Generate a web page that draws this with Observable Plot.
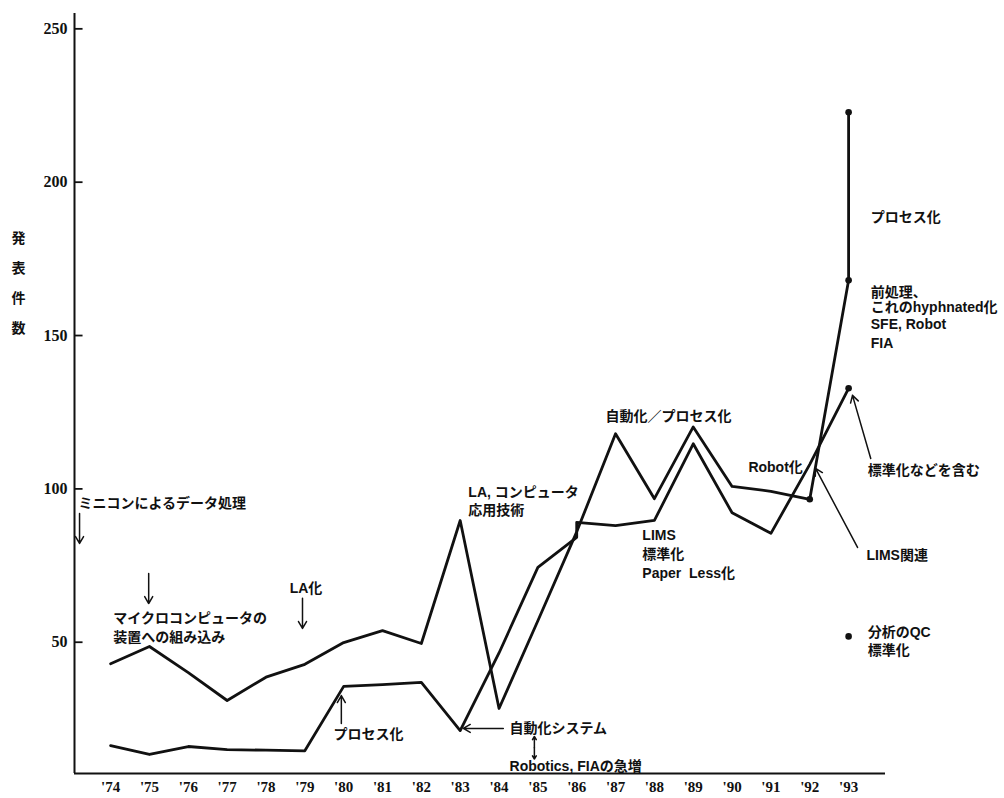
<!DOCTYPE html>
<html>
<head>
<meta charset="utf-8">
<script src="https://cdn.jsdelivr.net/npm/d3@7"></script>
<script src="https://cdn.jsdelivr.net/npm/@observablehq/plot@0.6"></script>
<style>
  body { margin: 0; background: #fff; }
  #chart { width: 1004px; height: 798px; overflow: hidden; }
</style>
</head>
<body>
<div id="chart"></div>
<script>
// ---- data ----
const years = [1974,1975,1976,1977,1978,1979,1980,1981,1982,1983,1984,1985,1986,1987,1988,1989,1990,1991,1992,1993];
const yearLabels = ["'74","'75","'76","'77","'78","'79","'80","'81","'82","'83","'84","'85","'86","'87","'88","'89","'90","'91","'92","'93"];
const yTicks = [50, 100, 150, 200, 250];
const yTitle = "発\n表\n件\n数";

// line A (upper line in the 1970s); the last year carries two points
const seriesAYears  = [1974,1975,1976,1977,1978,1979,1980,1981,1982,1983,1984,1985,1986,1987,1988,1989,1990,1991,1992,1993,1993];
const seriesAValues = [43.0,48.6,40.1,31.0,38.6,42.8,49.9,53.8,49.6,89.7,28.4,57.0,86.0,118.0,96.8,120.2,100.8,99.2,96.6,168.0,222.8];

// line B (lower line in the 1970s); 1986 carries two points
const seriesBYears  = [1974,1975,1976,1977,1978,1979,1980,1981,1982,1983,1984,1985,1986,1986,1987,1988,1989,1990,1991,1992,1993];
const seriesBValues = [16.3,13.4,16.0,15.0,14.8,14.6,35.6,36.2,36.9,21.2,46.5,74.4,84.2,89.1,88.0,89.7,114.7,92.2,85.5,108.0,132.8];

// marked points
const dotYears  = [1992, 1993, 1993, 1993, 1993];
const dotValues = [96.6, 168.0, 222.8, 132.8, 51.9];

// annotation texts
const noteTexts = [
  "ミニコンによるデータ処理",
  "マイクロコンピュータの",
  "装置への組み込み",
  "LA化",
  "プロセス化",
  "自動化システム",
  "Robotics, FIAの急増",
  "LA, コンピュータ",
  "応用技術",
  "自動化／プロセス化",
  "LIMS",
  "標準化",
  "Paper\u00a0 Less化",
  "Robot化",
  "プロセス化",
  "前処理、",
  "これのhyphnated化",
  "SFE, Robot",
  "FIA",
  "標準化などを含む",
  "LIMS関連",
  "分析のQC",
  "標準化"
];
// annotation anchors in data units (year, count)
const noteYears  = [1973.17,1974.07,1974.07,1978.61,1979.74,1984.27,1984.27,1983.21,1983.21,1986.74,1987.69,1987.69,1987.69,1990.42,1993.57,1993.57,1993.57,1993.57,1993.57,1993.49,1993.46,1993.49,1993.49];
const noteValues = [95.3,57.8,51.6,67.5,19.9,21.9,9.5,98.8,93.0,123.6,84.8,78.6,72.4,107.0,188.5,164.1,159.2,153.6,147.4,106.0,78.3,53.2,47.3];

// arrows: from (year1, value1) to (year2, value2)
const arrowX1 = [1973.20,1974.98,1978.94,1979.94,1984.11,1984.91,1984.91,1993.57,1993.23];
const arrowY1 = [92.0,   72.4,   64.3,   23.5,   21.9,   15.6,   15.6,   109.9,  80.9];
const arrowX2 = [1973.20,1974.98,1978.94,1979.94,1983.08,1984.91,1984.91,1993.10,1992.15];
const arrowY2 = [82.2,   62.6,   54.5,   32.6,   21.9,   19.3,   11.9,   130.5,  106.7];

// ---- build tables ----
const lineA = seriesAYears.map((x, i) => ({x, y: seriesAValues[i]}));
const lineB = seriesBYears.map((x, i) => ({x, y: seriesBValues[i]}));
const dots = dotYears.map((x, i) => ({x, y: dotValues[i]}));
const notes = noteTexts.map((t, i) => ({t, x: noteYears[i], y: noteValues[i]}));
const arrows = arrowX1.map((x1, i) => ({x1, y1: arrowY1[i], x2: arrowX2[i], y2: arrowY2[i]}));

const xMin = 1973.07, xMax = 1993.95, yMin = 7.2, yMax = 255;
const jp = "Liberation Sans, Noto Sans CJK JP, sans-serif";

const chart = Plot.plot({
  width: 1004,
  height: 798,
  marginLeft: 74,
  marginRight: 119,
  marginTop: 13,
  marginBottom: 25,
  x: {type: "linear", domain: [xMin, xMax]},
  y: {type: "linear", domain: [yMin, yMax]},
  style: {background: "#fff", color: "#111"},
  marks: [
    Plot.ruleY([yMin], {stroke: "#111", strokeWidth: 2}),
    Plot.ruleX([xMin], {stroke: "#111", strokeWidth: 2}),
    Plot.ruleY(yTicks, {x1: xMin, x2: xMin + 0.22, stroke: "#111", strokeWidth: 1.8}),
    Plot.axisY({ticks: yTicks, tickSize: 0, tickPadding: 7, fontSize: 16, fontFamily: "Liberation Serif", fontWeight: "bold", fill: "#111", tickFormat: d => String(d)}),
    Plot.axisX({ticks: years, tickSize: 0, tickPadding: 8, fontSize: 15, fontFamily: "Liberation Serif", fontWeight: "bold", fill: "#111", tickFormat: d => yearLabels[years.indexOf(d)]}),
    Plot.line(lineA, {x: "x", y: "y", stroke: "#111", strokeWidth: 2.8}),
    Plot.line(lineB, {x: "x", y: "y", stroke: "#111", strokeWidth: 2.8}),
    Plot.dot(dots, {x: "x", y: "y", r: 3.3, fill: "#111", stroke: "none"}),
    Plot.arrow(arrows, {x1: "x1", y1: "y1", x2: "x2", y2: "y2", stroke: "#111", strokeWidth: 1.5, headLength: 8}),
    Plot.text(notes, {x: "x", y: "y", text: "t", textAnchor: "start", fontSize: 14, fontWeight: "bold", fontFamily: jp, fill: "#111"}),
    Plot.text([yTitle], {text: d => d, frameAnchor: "left", dx: -56, dy: -115, textAnchor: "middle", lineHeight: 2.15, fontSize: 14, fontWeight: "bold", fontFamily: jp, fill: "#111"})
  ]
});
document.getElementById("chart").append(chart);
</script>
</body>
</html>
